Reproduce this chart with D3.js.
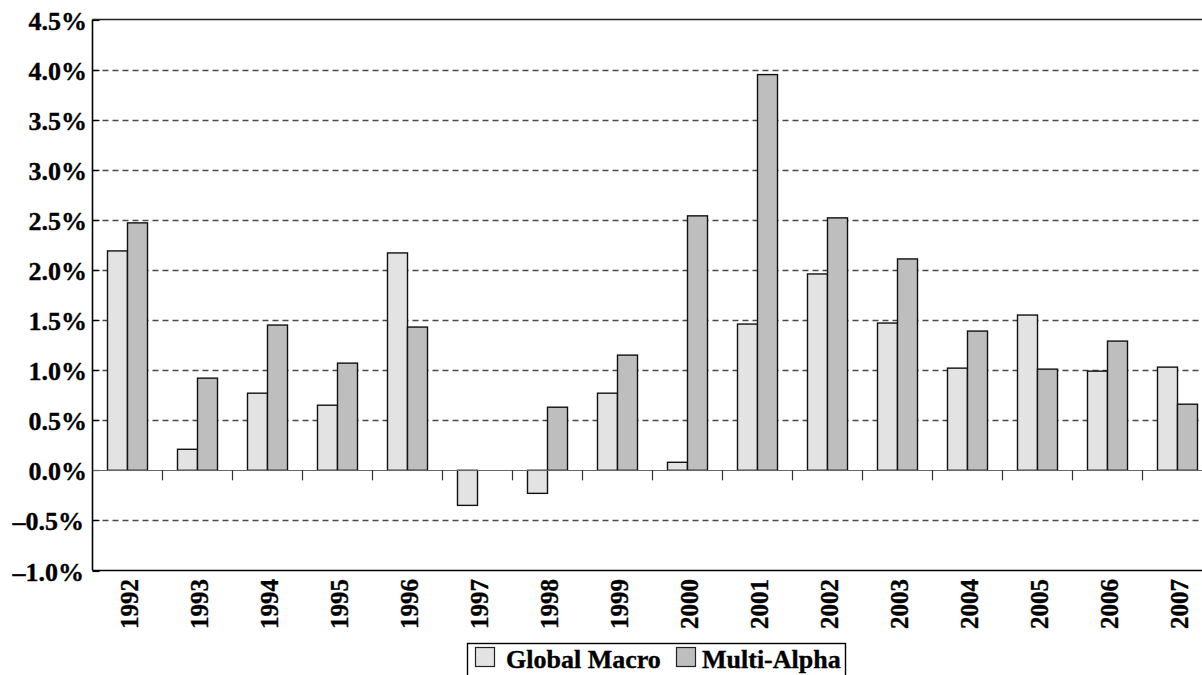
<!DOCTYPE html>
<html>
<head>
<meta charset="utf-8">
<script src="https://cdnjs.cloudflare.com/ajax/libs/d3/7.8.5/d3.min.js"></script>
<style>
  html, body { margin: 0; padding: 0; background: #fff; overflow: hidden; }
  svg { display: block; }
</style>
</head>
<body>
<svg id="chart" width="1202" height="675"></svg>
<script>
const years = ["1992","1993","1994","1995","1996","1997","1998","1999","2000","2001","2002","2003","2004","2005","2006","2007"];
const globalMacro = [2.19, 0.21, 0.77, 0.65, 2.17, -0.35, -0.23, 0.77, 0.08, 1.46, 1.96, 1.47, 1.02, 1.55, 0.99, 1.03];
const multiAlpha  = [2.47, 0.92, 1.45, 1.07, 1.43, 0.00, 0.63, 1.15, 2.54, 3.95, 2.52, 2.11, 1.39, 1.01, 1.29, 0.66];
const seriesNames = ["Global Macro", "Multi-Alpha"];
const seriesColors = ["#e3e3e3", "#bebebe"];
const yTicks = [-1.0, -0.5, 0.0, 0.5, 1.0, 1.5, 2.0, 2.5, 3.0, 3.5, 4.0, 4.5];

(function () {
const FONT = "'Liberation Serif', Tinos, 'Times New Roman', Times, 'DejaVu Serif', serif";
const svg = d3.select("#chart")
  .attr("font-family", FONT).attr("font-weight", "bold");
const pLeft = 92.5, pRight = 1212.5, pTop = 19.5, pBottom = 570.5;

const x0 = d3.scaleBand().domain(years).range([pLeft, pRight]).padding(0);
const x1 = d3.scaleBand().domain(seriesNames).range([15, 55]).padding(0);
const y = d3.scaleLinear().domain([-1.0, 4.5]).range([pBottom, pTop]);

const fmt = v => (v < 0 ? "\u2013" : "") + Math.abs(v).toFixed(1) + "%";
const heavy = sel => sel.attr("font-family", FONT).attr("font-weight", "bold")
  .attr("fill", "#000").attr("stroke", "#000").attr("stroke-width", 0.35);

// gridlines
svg.append("g").selectAll("line")
  .data(yTicks.filter(v => v !== -1.0 && v !== 4.5 && v !== 0))
  .join("line")
  .attr("x1", pLeft).attr("x2", pRight)
  .attr("y1", d => Math.round(y(d)) + 0.5).attr("y2", d => Math.round(y(d)) + 0.5)
  .attr("stroke", "#4a4a4a").attr("stroke-width", 1.3)
  .attr("stroke-dasharray", "6,4");

// y tick marks (inside)
svg.append("g").selectAll("line")
  .data(yTicks)
  .join("line")
  .attr("x1", pLeft).attr("x2", pLeft + 7)
  .attr("y1", d => Math.round(y(d)) + 0.5).attr("y2", d => Math.round(y(d)) + 0.5)
  .attr("stroke", "#000").attr("stroke-width", 1.2);

// y labels
svg.append("g").selectAll("text")
  .data(yTicks)
  .join("text")
  .attr("x", d => d < 0 ? 84 : 87)
  .attr("y", d => y(d) + 10)
  .attr("text-anchor", "end")
  .attr("font-size", 26)
  .call(heavy)
  .text(fmt);

// bars
const data = years.map((yr, i) => ({ year: yr, values: [globalMacro[i], multiAlpha[i]] }));
const groups = svg.append("g").selectAll("g")
  .data(data).join("g")
  .attr("transform", d => `translate(${x0(d.year)},0)`);
groups.selectAll("rect")
  .data(d => d.values.map((v, k) => ({ v, k })).filter(e => e.v !== 0))
  .join("rect")
  .attr("x", e => x1(seriesNames[e.k]))
  .attr("width", x1.bandwidth())
  .attr("y", e => y(Math.max(0, e.v)))
  .attr("height", e => Math.abs(y(e.v) - y(0)))
  .attr("fill", e => seriesColors[e.k])
  .attr("stroke", "#111").attr("stroke-width", 1.4);

// zero line
svg.append("line")
  .attr("x1", pLeft).attr("x2", pRight)
  .attr("y1", Math.round(y(0)) + 0.5).attr("y2", Math.round(y(0)) + 0.5)
  .attr("stroke", "#666").attr("stroke-width", 1.2);

// category ticks on zero line
svg.append("g").selectAll("line")
  .data(years.slice(1))
  .join("line")
  .attr("x1", d => x0(d)).attr("x2", d => x0(d))
  .attr("y1", y(0)).attr("y2", y(0) + 10)
  .attr("stroke", "#333").attr("stroke-width", 1.2);

// frame lines
svg.append("line").attr("x1", pLeft).attr("x2", pRight).attr("y1", pTop).attr("y2", pTop)
  .attr("stroke", "#222").attr("stroke-width", 1.4);
svg.append("line").attr("x1", pLeft).attr("x2", pRight).attr("y1", pBottom).attr("y2", pBottom)
  .attr("stroke", "#000").attr("stroke-width", 1.6);
svg.append("line").attr("x1", pLeft).attr("x2", pLeft).attr("y1", pTop).attr("y2", pBottom)
  .attr("stroke", "#000").attr("stroke-width", 1.6);

// x labels
svg.append("g").selectAll("text")
  .data(years)
  .join("text")
  .attr("transform", d => `translate(${x0(d) + x0.bandwidth() / 2 + 2},579) rotate(-90)`)
  .attr("text-anchor", "end")
  .attr("dy", "0.35em")
  .attr("font-size", 25)
  .call(heavy)
  .text(d => d);

// legend
const lg = svg.append("g");
lg.append("rect").attr("x", 467.5).attr("y", 643.5).attr("width", 378).attr("height", 45)
  .attr("fill", "none").attr("stroke", "#000").attr("stroke-width", 1.4);
const legendItems = [
  { name: seriesNames[0], color: seriesColors[0], sx: 475.5, tx: 506 },
  { name: seriesNames[1], color: seriesColors[1], sx: 676.5, tx: 702 }
];
legendItems.forEach(it => {
  lg.append("rect").attr("x", it.sx).attr("y", 647.5).attr("width", 19).attr("height", 19)
    .attr("fill", it.color).attr("stroke", "#222").attr("stroke-width", 1.2);
  lg.append("text").attr("x", it.tx).attr("y", 668)
    .attr("font-size", 26).call(heavy).text(it.name);
});
})();
</script>
</body>
</html>
